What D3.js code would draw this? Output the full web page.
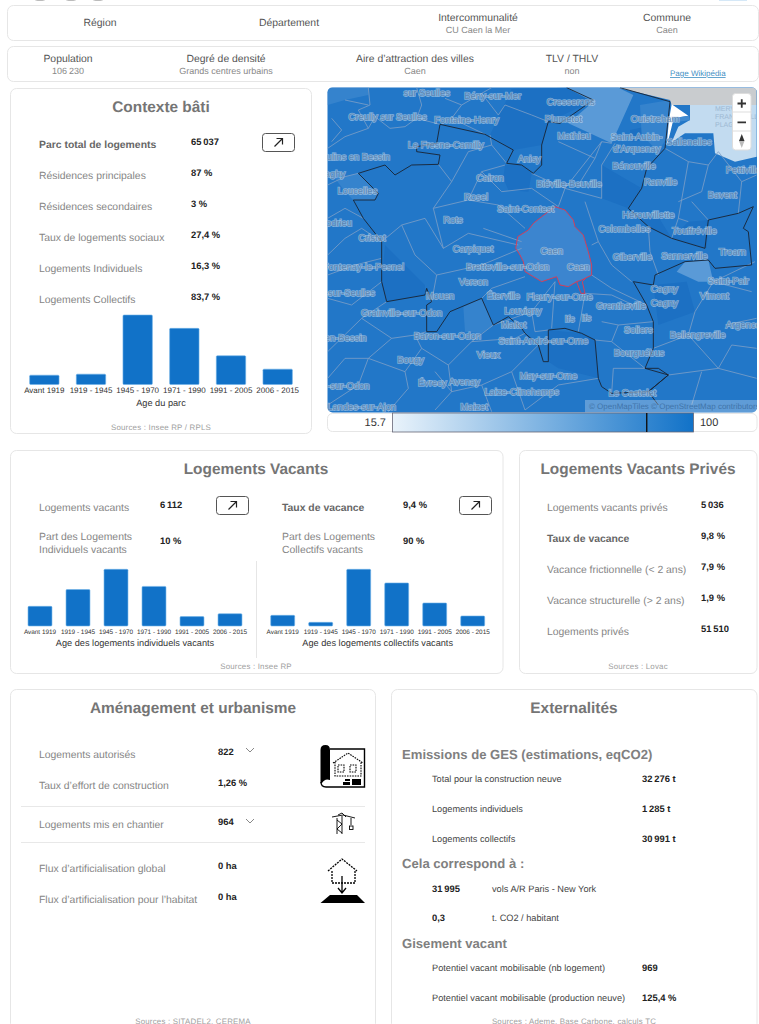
<!DOCTYPE html>
<html lang="fr">
<head>
<meta charset="utf-8">
<title>Caen</title>
<script src="https://d3js.org/d3.v7.min.js"></script>
<style>
  html, body { margin: 0; padding: 0; background: #fff; overflow: hidden; }
  svg { display: block; font-family: "Liberation Sans", Arial, sans-serif; text-rendering: geometricPrecision; }
  .label { font-size: 10.4px; fill: #858585; }
  .strong { font-weight: bold; fill: #666; }
  .value { font-size: 9.4px; font-weight: bold; fill: #222; }
  .title { font-size: 15.4px; font-weight: bold; fill: #757575; text-anchor: middle; }
  .source { font-size: 7.9px; fill: #a0a0a0; text-anchor: middle; letter-spacing: .2px; }
  .axis text { fill: #333; }
  .axis-title { font-size: 9.2px; fill: #333; text-anchor: middle; }
  .town { font-size: 9.4px; fill: #5c86b2; stroke: #cfe0f0; stroke-width: 1.6px; stroke-opacity: .55; paint-order: stroke; text-anchor: middle; }
</style>
</head>
<body>
<div id="chart"></div>
<script>
var ageClasses = ['Avant 1919', '1919 - 1945', '1945 - 1970', '1971 - 1990', '1991 - 2005', '2006 - 2015']
var parcAge = [3200, 3550, 23850, 19270, 9860, 5270]
var individuelsAge = [69, 128, 199, 139, 33, 43]
var collectifsAge = [399, 137, 2120, 1609, 861, 374]

var headerNames = ['Région', 'Département', 'Intercommunalité', 'Commune']
var headerValues = ['', '', 'CU Caen la Mer', 'Caen']
var infoNames = ['Population', 'Degré de densité', 'Aire d’attraction des villes', 'TLV / THLV']
var infoValues = ['106\u2009230', 'Grands centres urbains', 'Caen', 'non']

var contexteLabels = ['Parc total de logements', 'Résidences principales', 'Résidences secondaires', 'Taux de logements sociaux', 'Logements Individuels', 'Logements Collectifs']
var contexteValues = ['65\u2009037', '87 %', '3 %', '27,4 %', '16,3 %', '83,7 %']
var priveLabels = ['Logements vacants privés', 'Taux de vacance', 'Vacance frictionnelle (< 2 ans)', 'Vacance structurelle (> 2 ans)', 'Logements privés']
var priveValues = ['5\u2009036', '9,8 %', '7,9 %', '1,9 %', '51\u2009510']
var amenagementLabels = ['Logements autorisés', 'Taux d’effort de construction', 'Logements mis en chantier', 'Flux d’artificialisation global', 'Flux d’artificialisation pour l’habitat']
var amenagementValues = ['822', '1,26 %', '964', '0 ha', '0 ha']
var gesLabels = ['Total pour la construction neuve', 'Logements individuels', 'Logements collectifs']
var gesValues = ['32\u2009276 t', '1\u2009285 t', '30\u2009991 t']
var equivValues = ['31\u2009995', '0,3']
var equivLabels = ['vols A/R Paris - New York', 't. CO2 / habitant']
var gisementLabels = ['Potentiel vacant mobilisable (nb logement)', 'Potentiel vacant mobilisable (production neuve)']
var gisementValues = ['969', '125,4 %']

// map geometry, in map units (1302 x 1050)
var mapTowns = [
  ['sur Seulles', 305, 22], ['Bény-sur-Mer', 503, 31], ['Cresserons', 737, 49], ['Creully sur Seulles', 188, 93],
  ['Fontaine-Henry', 425, 103], ['Plumetot', 715, 101], ['Ouistreham', 990, 101], ['Mathieu', 747, 151],
  ['Saint-Aubin-', 935, 155], ['d’Arquenay', 935, 189], ['Sallenelles', 1092, 170], ['Le Fresne-Camilly', 362, 177],
  ['ulins en Bessin', 100, 215], ['Anisy', 613, 219], ['Bénouville', 927, 240], ['Pettiville', 1255, 253],
  ['aghy', 30, 265], ['Cairon', 495, 277], ['Ranville', 1007, 290], ['Biéville-Beuville', 732, 294],
  ['Loucelles', 97, 317], ['Rosel', 453, 333], ['Bavent', 1192, 328], ['Saint-Contest', 602, 370],
  ['Hérouvillette', 970, 388], ['Rots', 384, 403], ['odrieu', 42, 412], ['Colombelles', 898, 430],
  ['Touffréville', 1108, 436], ['Cristot', 141, 457], ['Carpiquet', 444, 490], ['Caen', 680, 495],
  ['Troarn', 1222, 498], ['Giberville', 922, 514], ['Sannerville', 1078, 510], ['Fontenay-le-Pesnel', 115, 543],
  ['Bretteville-sur-Odon', 548, 543], ['Caen', 760, 544], ['Verson', 445, 588], ['Saint-Pair', 1210, 585],
  ['Cagny', 1018, 609], ['-sur-Seulles', 75, 622], ['Vimont', 1168, 632], ['Mouen', 345, 630], ['Éterville', 535, 631],
  ['Fleury-sur-Orne', 704, 634], ['Cagny', 1018, 653], ['Grentheville', 888, 662], ['Louvigny', 594, 675],
  ['Grainville-sur-Odon', 230, 681], ['Ifs', 734, 701], ['Ifs', 784, 698], ['Maltot', 566, 719], ['Argences', 1262, 719],
  ['Soliers', 940, 732], ['Bellengreville', 1118, 747], ['Baron-sur-Odon', 367, 752], ['en-Bessin', 62, 756],
  ['Saint-André-sur-Orne', 655, 765], ['Bourguébus', 942, 801], ['Vieux', 490, 807], ['Bougy', 257, 824],
  ['May-sur-Orne', 670, 872], ['Avenay', 418, 888], ['Évrecy', 322, 893], ['-sur-Odon', 70, 901],
  ['Laize-Clinchamps', 590, 920], ['Le Castelet', 922, 921], ['Landes-sur-Ajon', 110, 963], ['Maizet', 447, 965]
]
var lightAreas = [
  [[700,8],[880,8],[925,30],[860,175],[730,115],[805,50],[725,8]],
  [[1055,560],[1080,530],[1150,525],[1165,590],[1120,590]]
]
var midAreas = [
  [[8,8],[130,8],[130,30],[60,45],[8,60]],
  [[30,280],[100,265],[160,325],[150,345],[85,345],[60,320]],
  [[945,60],[1035,45],[1030,150],[1000,200],[950,150]],
  [[1165,140],[1215,150],[1200,200],[1175,210]],
  [[415,665],[470,640],[505,720],[470,745],[420,740]]
]
var darkAreas = [
  [[540,240],[590,240],[620,265],[610,320],[550,315],[535,280]],
  [[670,110],[800,50],[725,8],[560,12],[495,150],[565,195],[650,180]],
  [[915,135],[960,125],[965,165],[920,170]],
  [[970,425],[1040,460],[1000,395],[945,400]],
  [[1040,460],[1145,490],[1150,405],[1090,410]],
  [[670,735],[770,745],[810,765],[820,880],[700,850],[670,830]],
  [[985,600],[1085,590],[1110,680],[1000,720]],
  [[830,240],[950,310],[910,370],[830,340]],
  [[180,480],[300,600],[300,630],[185,650],[170,590]]
]
var caenOutline = [[690,365],[720,375],[745,405],[750,425],[775,450],[790,500],[800,540],[800,570],[770,585],[755,590],[730,605],[705,600],[695,575],[650,590],[625,575],[600,560],[595,530],[585,510],[572,490],[578,455],[610,435],[625,415],[650,395]]
var caenTail = [[755,590],[768,625],[780,625],[772,590],[782,580]]
var epciBorders = [
  [[885,8],[1035,50],[1020,190],[965,250],[950,310],[910,370],[970,425],[1040,460],[1140,490],[1150,405],[1240,385],[1285,365],[1255,430],[1270,440],[1280,540],[1170,550],[1150,525],[1080,530],[990,570],[985,600],[925,590],[965,660],[985,710],[985,790],[960,850],[1000,850],[1030,870],[970,920],[1000,960]],
  [[960,850],[1030,870],[970,920],[860,925],[830,905],[820,880],[810,765],[770,745],[720,730],[670,735],[670,830],[655,830],[640,780],[600,745],[590,730],[550,695],[505,720],[470,640],[375,680],[335,740],[305,740],[305,660],[320,650],[305,610],[300,630],[185,650],[170,590],[170,470],[115,400],[85,345],[150,345],[160,325],[100,265],[180,240],[210,270],[260,240],[340,238],[345,210],[275,200],[275,185],[335,175],[345,118],[480,148],[565,195],[545,235],[590,240],[625,265],[650,240],[650,180],[670,110],[705,115],[805,45],[725,8]]
]
var communeBorders = [
  [[8,190],[60,155],[130,130],[150,95],[195,130],[240,125],[275,100],[345,118]],
  [[130,8],[135,60],[100,75],[130,130]], [[20,100],[50,135],[20,170]], [[275,8],[290,60],[275,100]],
  [[360,40],[410,60],[380,100],[480,148]], [[410,60],[470,25],[500,8]], [[470,25],[520,90],[540,60],[620,90],[670,110]],
  [[8,300],[60,275],[100,265]], [[8,400],[60,370],[115,400]], [[8,510],[60,460],[110,430],[170,470]],
  [[8,570],[90,540],[170,520]], [[8,640],[80,660],[170,590]], [[8,800],[110,700],[185,650]],
  [[110,700],[200,760],[270,750],[305,740]], [[8,960],[100,900],[130,820],[200,760]], [[130,820],[240,860],[290,790],[270,750]],
  [[240,860],[250,910],[190,980]], [[290,790],[370,840],[440,770],[505,720]], [[370,840],[380,920],[330,975]], [[380,920],[470,900],[560,860],[640,780]],
  [[470,900],[500,980]], [[560,860],[600,975]], [[440,770],[570,760],[600,745]], [[340,238],[380,290],[325,370],[355,490]],
  [[325,370],[430,345],[470,260],[540,240]], [[430,345],[520,360],[600,430]], [[470,260],[530,320],[620,310],[700,365]], [[475,430],[590,470]],
  [[355,490],[430,445],[580,480]], [[230,420],[300,400],[355,490]], [[230,420],[270,510],[335,570],[470,540],[590,490]], [[335,570],[320,650]],
  [[470,640],[500,610],[600,575]], [[505,720],[620,680],[690,590]], [[620,680],[630,740],[670,735]], [[690,590],[680,730]], [[780,625],[760,740]], [[780,625],[860,630],[925,660]],
  [[800,570],[860,610],[965,660]], [[820,470],[860,540],[920,590]], [[780,350],[820,470],[800,480]], [[700,365],[720,310],[830,340],[830,240],[870,175]],
  [[720,310],[830,170],[860,175]], [[620,265],[720,310]], [[830,710],[880,720],[860,770],[810,765]], [[880,720],[985,710]], [[860,770],[960,850]], [[865,850],[960,850]], [[865,850],[860,925]],
  [[985,790],[1090,750],[1110,680],[1165,590],[1280,620]], [[1090,750],[1180,850],[1295,880]], [[1030,870],[1180,850]], [[1200,720],[1295,700]], [[1165,590],[1290,530]],
  [[1020,190],[1090,230],[1150,240],[1180,200]], [[1090,230],[1060,400],[1090,410]], [[1150,240],[1130,320],[1060,350]], [[1180,200],[1250,290],[1240,385]], [[1040,460],[1060,400]],
  [[1000,570],[975,500],[970,425]], [[1100,350],[1150,405]], [[700,170],[810,220],[830,170]], [[810,220],[760,300]], [[1250,290],[1295,270]], [[60,45],[130,60]],
  [[170,470],[230,420]], [[8,880],[60,820],[130,820]], [[380,920],[330,860]], [[600,975],[700,900],[820,880]], [[1100,960],[1130,860]], [[1295,790],[1220,780],[1180,850]], [[545,235],[500,180],[430,200],[380,290]], [[495,150],[500,180]]
]
var legendMin = '15.7'
var legendMax = '100'

var width = 759
var height = 1024
var blue = '#1172c8'

var svg = d3.select('#chart').append('svg')
  .attr('width', width)
  .attr('height', height)

function card(x, y, w, h, r, stroke) {
  svg.append('rect')
    .attr('x', x).attr('y', y)
    .attr('width', w).attr('height', h)
    .attr('rx', r)
    .attr('fill', '#fff')
    .attr('stroke', stroke || '#e6e6e6')
}

function label(g, x, y, text, cls) {
  return g.append('text').attr('x', x).attr('y', y).attr('class', cls).text(text)
}

function rows(labels, values, xLabel, xValue, ys, strong) {
  labels.forEach(function(d, i) {
    label(svg, xLabel, ys[i], d, 'label' + (i === strong ? ' strong' : ''))
    label(svg, xValue, ys[i] - 3, values[i], 'value')
  })
}

function arrowButton(x, y) {
  svg.append('rect')
    .attr('x', x).attr('y', y)
    .attr('width', 32).attr('height', 18)
    .attr('rx', 3)
    .attr('fill', '#fff')
    .attr('stroke', '#555')
  svg.append('path')
    .attr('d', 'M' + (x + 12) + ',' + (y + 13) + 'L' + (x + 20) + ',' + (y + 5)
      + 'M' + (x + 14) + ',' + (y + 5) + 'H' + (x + 20) + 'V' + (y + 11))
    .attr('fill', 'none')
    .attr('stroke', '#222')
    .attr('stroke-width', 1.2)
}

// same small bar chart everywhere: one band scale, one linear scale, one axis
function barChart(values, x0, x1, baseline, barHeight, tickFont, title, titleY) {
  var x = d3.scaleBand().domain(ageClasses).range([x0, x1]).paddingInner(.37).paddingOuter(.185)
  var y = d3.scaleLinear().domain([0, d3.max(values)]).range([baseline, baseline - barHeight])
  var g = svg.append('g')

  g.selectAll('rect')
    .data(values)
    .enter()
    .append('rect')
    .attr('x', function(d, i) { return x(ageClasses[i]) })
    .attr('y', function(d) { return y(d) })
    .attr('width', x.bandwidth())
    .attr('height', function(d) { return baseline - y(d) })
    .attr('rx', 1)
    .attr('fill', blue)
    .attr('stroke', '#6fb1e8')
    .attr('stroke-width', .6)

  var axis = g.append('g')
    .attr('class', 'axis')
    .attr('transform', 'translate(0,' + baseline + ')')
    .call(d3.axisBottom(x).tickSize(0).tickPadding(3))
  axis.select('.domain').remove()
  axis.selectAll('text').style('font-size', tickFont + 'px').style('font-family', 'inherit')

  label(g, (x0 + x1) / 2, titleY, title, 'axis-title')
}

// top bars
card(7.5, 5.5, 751, 35, 6)
card(7.5, 46.5, 751, 35, 6)
headerNames.forEach(function(d, i) {
  var hasValue = headerValues[i] !== ''
  var xPos = [100, 289, 478, 667][i]
  label(svg, xPos, hasValue ? 21 : 26, d, 'label')
    .style('fill', '#555').style('text-anchor', 'middle')
  label(svg, xPos, 33, headerValues[i], 'label')
    .style('fill', '#888').style('font-size', '9px').style('text-anchor', 'middle')
})
infoNames.forEach(function(d, i) {
  var xPos = [68, 226, 415, 572][i]
  label(svg, xPos, 62, d, 'label').style('fill', '#555').style('text-anchor', 'middle')
  label(svg, xPos, 74, infoValues[i], 'label')
    .style('fill', '#888').style('font-size', '9px').style('text-anchor', 'middle')
})
label(svg, 670, 76, 'Page Wikipédia', 'label')
  .style('fill', '#3f8fc4').style('font-size', '8px').style('text-decoration', 'underline')

// bits of the clipped header above the first bar
svg.selectAll('.cut')
  .data([40, 71, 98])
  .enter()
  .append('ellipse')
  .attr('cx', function(d) { return d })
  .attr('cy', -1)
  .attr('rx', 6)
  .attr('ry', 2)
  .attr('fill', '#bbb')
svg.append('rect').attr('x', 719).attr('y', 0).attr('width', 28).attr('height', 1).attr('fill', '#d5e8f7')

// contexte bati
card(10.5, 88.5, 301, 345, 6)
label(svg, 161, 112, 'Contexte bâti', 'title')
rows(contexteLabels, contexteValues, 39, 191, [148, 179, 210, 241, 272, 303], 0)
arrowButton(262.5, 133.5)
barChart(parcAge, 21, 301, 384.5, 69.5, 8, 'Age du parc', 406)
label(svg, 161, 430, 'Sources : Insee RP / RPLS', 'source')

// map
var mapX = d3.scaleLinear().domain([0, 1302]).range([325, 759])
var mapY = d3.scaleLinear().domain([0, 1050]).range([85, 435])
var line = d3.line().x(function(d) { return mapX(d[0]) }).y(function(d) { return mapY(d[1]) })
var defs = svg.append('defs')
defs.append('clipPath').attr('id', 'map-clip')
  .append('rect')
  .attr('x', 327.5).attr('y', 87.5)
  .attr('width', 429.5).attr('height', 325)
  .attr('rx', 5)

var map = svg.append('g').attr('clip-path', 'url(#map-clip)')
map.append('rect').attr('x', 325).attr('y', 85).attr('width', 434).attr('height', 330).attr('fill', '#2277c8')

function areas(data, fill) {
  map.append('g').selectAll('path')
    .data(data)
    .enter()
    .append('path')
    .attr('d', function(d) { return line(d) + 'Z' })
    .attr('fill', fill)
}

areas(darkAreas, '#1c70c3')
areas(midAreas, '#3583cd')
areas(lightAreas, '#5a9ad7')

// sea and coast
areas([[[880,8],[1035,45],[1040,60],[1295,60],[1295,8]]], '#c9cccf')
areas([[[1095,60],[1295,60],[1295,215],[1230,230],[1170,205],[1165,145],[1080,145],[1040,172],[1060,125],[1095,105]]], '#c2dbf0')
areas([[[1040,58],[1090,92],[1046,100],[1034,150],[1025,182],[1032,105]]], '#fff')
areas([[[1040,100],[1092,92],[1095,106],[1045,112]]], '#3f8ad0')

map.append('path')
  .attr('d', line(caenOutline) + 'Z')
  .attr('fill', '#3c85cf')

map.append('g').selectAll('path')
  .data(communeBorders)
  .enter()
  .append('path')
  .attr('d', line)
  .attr('fill', 'none')
  .attr('stroke', '#7f9fc6')
  .attr('stroke-width', .8)

map.append('g').selectAll('path')
  .data(epciBorders)
  .enter()
  .append('path')
  .attr('d', line)
  .attr('fill', 'none')
  .attr('stroke', '#1a2433')
  .attr('stroke-width', .9)

map.append('path').attr('d', line(caenOutline) + 'Z')
  .attr('fill', 'none').attr('stroke', '#d1405c').attr('stroke-width', 1)
map.append('path').attr('d', line(caenTail))
  .attr('fill', 'none').attr('stroke', '#d1405c').attr('stroke-width', 1)

map.append('g').selectAll('text')
  .data(mapTowns)
  .enter()
  .append('text')
  .attr('class', 'town')
  .attr('x', function(d) { return mapX(d[1]) })
  .attr('y', function(d) { return mapY(d[2]) + 3.5 })
  .text(function(d) { return d[0] })

map.append('g').selectAll('text')
  .data(['MERVILLE-', 'FRANCEVILLE', 'PLAGE'])
  .enter()
  .append('text')
  .attr('x', 715)
  .attr('y', function(d, i) { return 111 + i * 8 })
  .style('font-size', '7px')
  .attr('fill', '#9db8d2')
  .text(function(d) { return d })

// attribution
map.append('rect').attr('x', 585).attr('y', 400).attr('width', 174).attr('height', 13).attr('fill', '#fff').attr('opacity', .28)
label(map, 589, 409, '© OpenMapTiles © OpenStreetMap contributors', 'label')
  .style('font-size', '8px').style('fill', '#3f74aa')

// zoom control
svg.append('rect').attr('x', 732.5).attr('y', 93.5).attr('width', 18.5).attr('height', 56.5).attr('rx', 3).attr('fill', '#fff').attr('stroke', '#ddd')
svg.selectAll('.zoom-sep').data([112, 131]).enter().append('line')
  .attr('x1', 733).attr('x2', 751).attr('y1', function(d) { return d }).attr('y2', function(d) { return d })
  .attr('stroke', '#ddd')
svg.append('path').attr('d', 'M737.5,103.5H746M741.75,99.25V107.75M737.5,122.3H746')
  .attr('stroke', '#333').attr('stroke-width', 1.8)
svg.append('path').attr('d', 'M741.75,134L744.5,141H739Z').attr('fill', '#333')
svg.append('path').attr('d', 'M741.75,148L744.5,141H739Z').attr('fill', '#bbb')

// legend
card(327.5, 413.5, 429.5, 18, 5)
var legendGradient = defs.append('linearGradient').attr('id', 'legend-gradient')
legendGradient.append('stop').attr('offset', '0%').attr('stop-color', '#e9f3fb')
legendGradient.append('stop').attr('offset', '100%').attr('stop-color', blue)
svg.append('rect')
  .attr('x', 392.5).attr('y', 413)
  .attr('width', 301).attr('height', 19)
  .attr('fill', 'url(#legend-gradient)')
  .attr('stroke', '#667')
  .attr('stroke-width', .8)
var legendScale = d3.scaleLinear().domain([15.7, 100]).range([393, 693])
svg.append('line')
  .attr('x1', legendScale(87)).attr('x2', legendScale(87))
  .attr('y1', 413).attr('y2', 432)
  .attr('stroke', '#111').attr('stroke-width', 1.4)
label(svg, 386, 426, legendMin, 'label').style('text-anchor', 'end').style('fill', '#333').style('font-size', '11px')
label(svg, 700, 426, legendMax, 'label').style('fill', '#333').style('font-size', '11px')

// logements vacants
card(10.5, 450.5, 492.5, 223, 6)
label(svg, 256, 474, 'Logements Vacants', 'title')
label(svg, 39, 511, 'Logements vacants', 'label')
label(svg, 160, 508, '6\u2009112', 'value')
arrowButton(216.5, 496.5)
label(svg, 282, 511, 'Taux de vacance', 'label strong')
label(svg, 403, 508, '9,4 %', 'value')
arrowButton(459.5, 496.5)
label(svg, 39, 540, 'Part des Logements', 'label')
label(svg, 39, 553, 'Individuels vacants', 'label')
label(svg, 160, 544, '10 %', 'value')
label(svg, 282, 540, 'Part des Logements', 'label')
label(svg, 282, 553, 'Collectifs vacants', 'label')
label(svg, 403, 544, '90 %', 'value')
svg.append('line').attr('x1', 256.5).attr('x2', 256.5).attr('y1', 561).attr('y2', 658).attr('stroke', '#e6e6e6')
barChart(individuelsAge, 21, 249, 626, 56.7, 6.4, 'Age des logements individuels vacants', 646)
barChart(collectifsAge, 263.7, 491.7, 626, 56.7, 6.4, 'Age des logements collectifs vacants', 646)
label(svg, 256, 669, 'Sources : Insee RP', 'source')

// logements vacants prives
card(519.5, 450.5, 237.5, 223, 6)
label(svg, 638, 474, 'Logements Vacants Privés', 'title')
rows(priveLabels, priveValues, 547, 701, [511, 542, 573, 604, 635], 1)
label(svg, 638, 669, 'Sources : Lovac', 'source')

// amenagement et urbanisme
card(10.5, 689.5, 365, 340, 6)
label(svg, 193, 713, 'Aménagement et urbanisme', 'title')
rows(amenagementLabels, amenagementValues, 39, 218, [758, 789, 828, 872, 903], -1)
svg.selectAll('.sep').data([806.5, 842.5]).enter().append('line')
  .attr('x1', 21).attr('x2', 365)
  .attr('y1', function(d) { return d }).attr('y2', function(d) { return d })
  .attr('stroke', '#e8e8e8')
svg.selectAll('.chevron').data([750, 821]).enter().append('path')
  .attr('d', function(d) { return 'M246,' + (d - 2) + 'L250,' + (d + 2) + 'L254,' + (d - 2) })
  .attr('fill', 'none').attr('stroke', '#888')
label(svg, 193, 1024, 'Sources : SITADEL2, CEREMA', 'source')

// icons
var icons = svg.append('g').attr('fill', 'none').attr('stroke', '#000')
icons.append('path')
  .attr('d', 'M330,749H364.5V787H326Q321,787 321,782')
  .attr('fill', '#fff').attr('stroke-width', 1.4)
icons.append('path')
  .attr('d', 'M320.5,750Q320.5,745 325.5,745Q330,745 330,750V780Q325,778 322,783L320.5,783Z')
  .attr('fill', '#000').attr('stroke', 'none')
icons.append('path')
  .attr('d', 'M333,763L348,753L363,763M335,762V776H361V762M338,765H344V772H338ZM350,765H356V772H350Z')
  .attr('stroke-dasharray', '1.6 1').attr('stroke-width', 1.1)
icons.append('path').attr('d', 'M352,779H361V785H352ZM343,782H350V785H343ZM345,779H350V781H345Z').attr('fill', '#000').attr('stroke', 'none')
icons.append('path')
  .attr('d', 'M332,817L343,815L355,818M337,818L337,834M342,816L342,834M337,820L342,824L337,829L342,833M338,815L342,813L346,817M351,818V825')
  .attr('stroke-width', .9)
icons.append('rect').attr('x', 349.5).attr('y', 826).attr('width', 3.5).attr('height', 3.5).attr('stroke-width', .9)
icons.append('path')
  .attr('d', 'M328,871L342,859L357,871M332,871V883H355V871')
  .attr('stroke-dasharray', '2 1').attr('stroke-width', 1.3)
icons.append('path').attr('d', 'M342,876V892M338,888L342,893L346,888').attr('stroke-width', 1.3)
icons.append('path').attr('d', 'M320.5,903L330,895H357L365,903Z').attr('fill', '#000').attr('stroke', 'none')

// externalites
card(391.5, 689.5, 365.5, 340, 6)
label(svg, 574, 713, 'Externalités', 'title')

function heading(text, y) {
  label(svg, 402, y, text, 'label').style('font-size', '13.1px').style('font-weight', 'bold').style('fill', '#808080')
}

function smallRows(labels, values, ys) {
  labels.forEach(function(d, i) {
    label(svg, 432, ys[i], d, 'label').style('font-size', '9.2px').style('fill', '#444')
    label(svg, 642, ys[i], values[i], 'value')
  })
}

heading('Emissions de GES (estimations, eqCO2)', 759)
smallRows(gesLabels, gesValues, [782, 812, 842])
heading('Cela correspond à :', 868)
equivValues.forEach(function(d, i) {
  var y = [892, 921][i]
  label(svg, 432, y, d, 'value')
  label(svg, 492, y, equivLabels[i], 'label').style('font-size', '9.2px').style('fill', '#444')
})
heading('Gisement vacant', 948)
smallRows(gisementLabels, gisementValues, [971, 1001])
label(svg, 574, 1024, 'Sources : Ademe, Base Carbone, calculs TC', 'source')
</script>
</body>
</html>
